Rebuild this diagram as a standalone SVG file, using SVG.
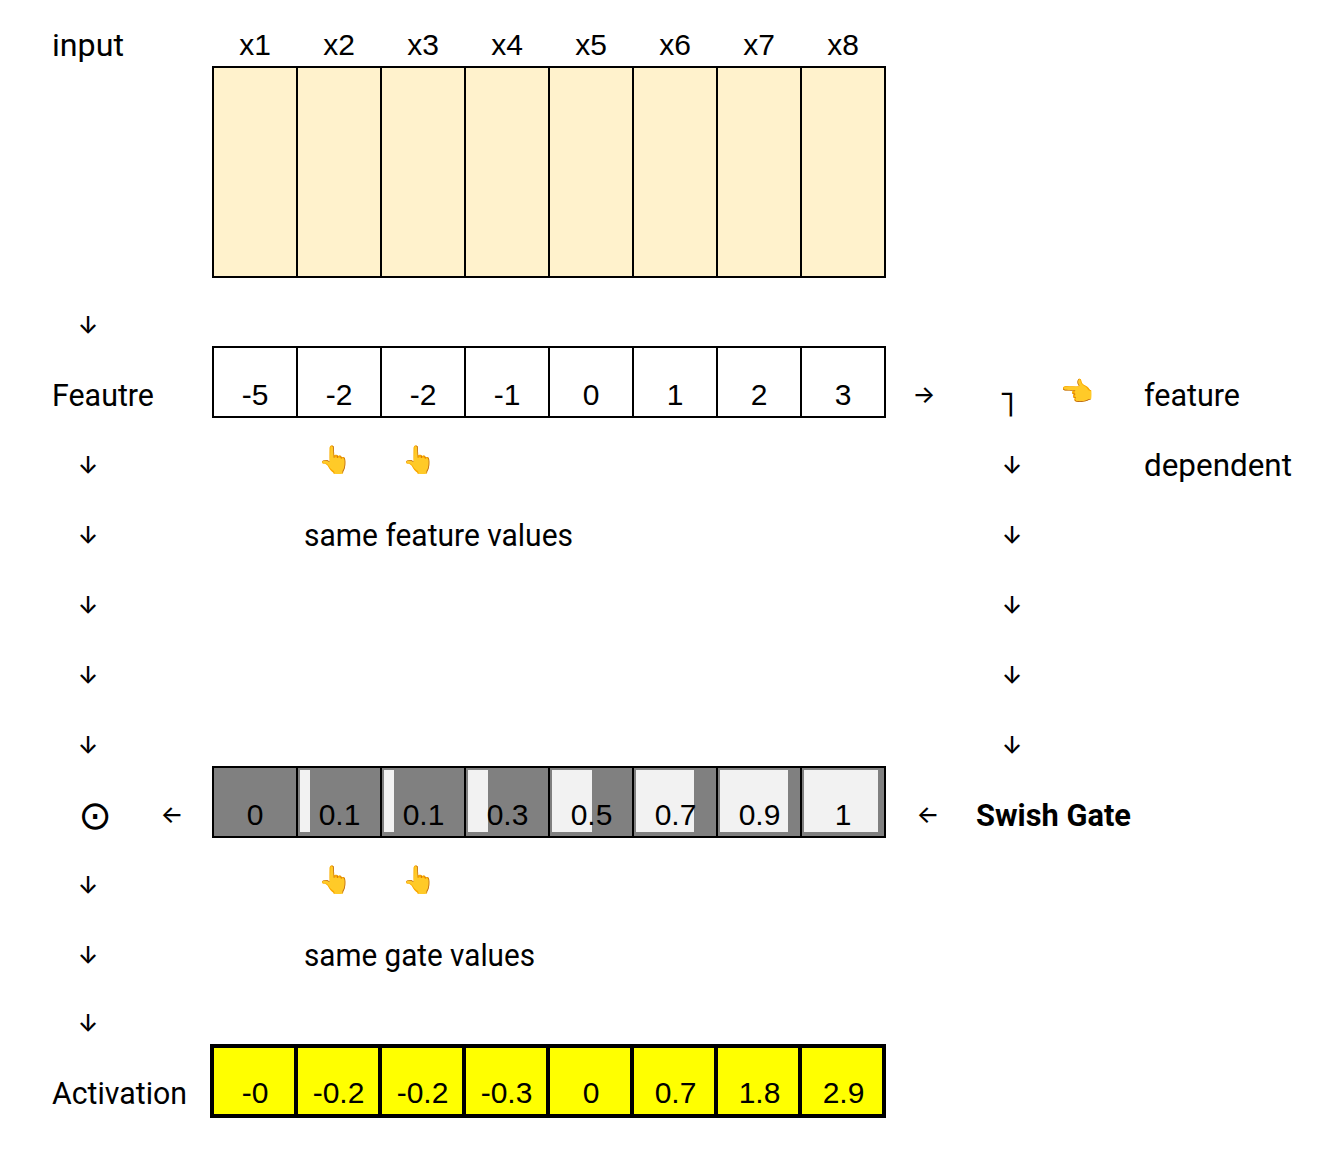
<svg xmlns="http://www.w3.org/2000/svg" width="1322" height="1160" viewBox="0 0 1322 1160">
<style>
text{font-family:"Liberation Sans",Arial,sans-serif;font-size:30px;fill:#000}
.l{font-family:Roboto,"Noto Sans",sans-serif;font-size:31px}
.c{text-anchor:middle}
.e{font-family:"Noto Color Emoji","Apple Color Emoji","DejaVu Sans",sans-serif;font-size:27px}
.a{font-family:Inter,"DejaVu Sans",sans-serif;font-size:24px;font-weight:500;text-anchor:middle}
.cell{stroke:#000;stroke-width:2}
.input{fill:#fff2cc}.feat{fill:#fff}.gate{fill:#808080}.act{fill:#ff0;stroke-width:4}
.bar{fill:#f2f2f2}
</style>
<g id="row-input">
<rect class="cell input" x="213" y="67" width="84" height="210"/><rect class="cell input" x="297" y="67" width="84" height="210"/><rect class="cell input" x="381" y="67" width="84" height="210"/><rect class="cell input" x="465" y="67" width="84" height="210"/><rect class="cell input" x="549" y="67" width="84" height="210"/><rect class="cell input" x="633" y="67" width="84" height="210"/><rect class="cell input" x="717" y="67" width="84" height="210"/><rect class="cell input" x="801" y="67" width="84" height="210"/>
<text class="c" x="255" y="55">x1</text><text class="c" x="339" y="55">x2</text><text class="c" x="423" y="55">x3</text><text class="c" x="507" y="55">x4</text><text class="c" x="591" y="55">x5</text><text class="c" x="675" y="55">x6</text><text class="c" x="759" y="55">x7</text><text class="c" x="843" y="55">x8</text>
</g>
<g id="row-feature">
<rect class="cell feat" x="213" y="347" width="84" height="70"/><rect class="cell feat" x="297" y="347" width="84" height="70"/><rect class="cell feat" x="381" y="347" width="84" height="70"/><rect class="cell feat" x="465" y="347" width="84" height="70"/><rect class="cell feat" x="549" y="347" width="84" height="70"/><rect class="cell feat" x="633" y="347" width="84" height="70"/><rect class="cell feat" x="717" y="347" width="84" height="70"/><rect class="cell feat" x="801" y="347" width="84" height="70"/>
<text class="c" x="255" y="405">-5</text><text class="c" x="339" y="405">-2</text><text class="c" x="423" y="405">-2</text><text class="c" x="507" y="405">-1</text><text class="c" x="591" y="405">0</text><text class="c" x="675" y="405">1</text><text class="c" x="759" y="405">2</text><text class="c" x="843" y="405">3</text>
</g>
<g id="row-gate">
<rect class="cell gate" x="213" y="767" width="84" height="70"/><rect class="cell gate" x="297" y="767" width="84" height="70"/><rect class="cell gate" x="381" y="767" width="84" height="70"/><rect class="cell gate" x="465" y="767" width="84" height="70"/><rect class="cell gate" x="549" y="767" width="84" height="70"/><rect class="cell gate" x="633" y="767" width="84" height="70"/><rect class="cell gate" x="717" y="767" width="84" height="70"/><rect class="cell gate" x="801" y="767" width="84" height="70"/>
<rect class="bar" x="300" y="770" width="10" height="62"/><rect class="bar" x="384" y="770" width="10" height="62"/><rect class="bar" x="468" y="770" width="20" height="62"/><rect class="bar" x="552" y="770" width="40" height="62"/><rect class="bar" x="636" y="770" width="58" height="62"/><rect class="bar" x="720" y="770" width="68" height="62"/><rect class="bar" x="804" y="770" width="74" height="62"/>
<text class="c" x="255" y="825">0</text><text class="c" x="339.500" y="825">0.1</text><text class="c" x="423.500" y="825">0.1</text><text class="c" x="507.500" y="825">0.3</text><text class="c" x="591.500" y="825">0.5</text><text class="c" x="675.500" y="825">0.7</text><text class="c" x="759.500" y="825">0.9</text><text class="c" x="843" y="825">1</text>
</g>
<g id="row-activation">
<rect class="cell act" x="212" y="1046" width="84" height="70"/><rect class="cell act" x="296" y="1046" width="84" height="70"/><rect class="cell act" x="380" y="1046" width="84" height="70"/><rect class="cell act" x="464" y="1046" width="84" height="70"/><rect class="cell act" x="548" y="1046" width="84" height="70"/><rect class="cell act" x="632" y="1046" width="84" height="70"/><rect class="cell act" x="716" y="1046" width="84" height="70"/><rect class="cell act" x="800" y="1046" width="84" height="70"/>
<text class="c" x="255" y="1103">-0</text><text class="c" x="338.500" y="1103">-0.2</text><text class="c" x="422.500" y="1103">-0.2</text><text class="c" x="506.500" y="1103">-0.3</text><text class="c" x="591" y="1103">0</text><text class="c" x="675.500" y="1103">0.7</text><text class="c" x="759.500" y="1103">1.8</text><text class="c" x="843.500" y="1103">2.9</text>
</g>
<g id="labels">
<text class="l" x="52" y="56" textLength="72" lengthAdjust="spacingAndGlyphs">input</text>
<text class="l" x="52" y="406" textLength="102" lengthAdjust="spacingAndGlyphs">Feautre</text>
<text class="l" x="52" y="1104" textLength="135" lengthAdjust="spacingAndGlyphs">Activation</text>
<text class="l" x="1144" y="406" textLength="96" lengthAdjust="spacingAndGlyphs">feature</text>
<text class="l" x="1144" y="476" textLength="148" lengthAdjust="spacingAndGlyphs">dependent</text>
<text class="l" x="304" y="546" textLength="269" lengthAdjust="spacingAndGlyphs">same feature values</text>
<text class="l" x="304" y="966" textLength="231" lengthAdjust="spacingAndGlyphs">same gate values</text>
<text class="l" x="976" y="826" textLength="155" lengthAdjust="spacingAndGlyphs" font-weight="700">Swish Gate</text>
</g>
<g id="connectors">
<text class="a" x="88" y="334">↓</text><text class="a" x="88" y="474">↓</text><text class="a" x="88" y="544">↓</text><text class="a" x="88" y="614">↓</text><text class="a" x="88" y="684">↓</text><text class="a" x="88" y="754">↓</text><text class="a" x="88" y="894">↓</text><text class="a" x="88" y="964">↓</text><text class="a" x="88" y="1032">↓</text>
<text class="a" x="1012" y="474">↓</text><text class="a" x="1012" y="544">↓</text><text class="a" x="1012" y="614">↓</text><text class="a" x="1012" y="684">↓</text><text class="a" x="1012" y="754">↓</text>
<text class="a" x="924" y="403">→</text><text class="a" x="172" y="823">←</text><text class="a" x="928" y="823">←</text>
<text class="a" x="1007" y="416" style="font-family:'DejaVu Sans',sans-serif;font-size:36px">˥</text>
<text class="a" x="95" y="829" style="font-family:'DejaVu Sans',sans-serif;font-size:40px;font-weight:400">⊙</text>
</g>
<g id="emoji">
<text class="e" x="318" y="469">👆</text><text class="e" x="402" y="469">👆</text><text class="e" x="318" y="889">👆</text><text class="e" x="402" y="889">👆</text><text class="e" x="1060" y="401">👈</text>
</g>
</svg>
